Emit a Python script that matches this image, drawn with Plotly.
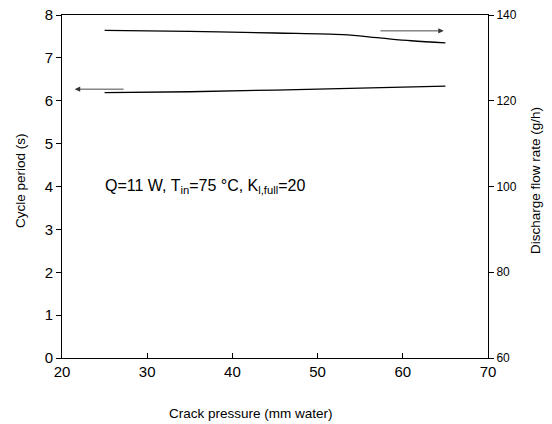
import plotly.graph_objects as go

# Data
crack_pressure = [25, 35, 45, 53, 57, 61, 65]
cycle_period = [6.19, 6.21, 6.25, 6.28, 6.30, 6.32, 6.34]
flow_x = [25, 35, 45, 53, 57, 61, 65]
flow_rate = [136.4, 136.2, 135.8, 135.4, 134.7, 134.0, 133.5]

x_ticks = [20, 30, 40, 50, 60, 70]
y_ticks = [0, 1, 2, 3, 4, 5, 6, 7, 8]
y2_ticks = [60, 80, 100, 120, 140]

font = "Liberation Sans, Arial, sans-serif"

fig = go.Figure()
fig.add_trace(go.Scatter(x=crack_pressure, y=cycle_period, mode="lines",
                         line=dict(color="black", width=1.3), showlegend=False))
fig.add_trace(go.Scatter(x=flow_x, y=flow_rate, mode="lines", yaxis="y2",
                         line=dict(color="black", width=1.3, shape="spline"), showlegend=False))

annotations = [
    dict(x=21.5, y=6.27, ax=27.4, ay=6.27, xref="x", yref="y", axref="x", ayref="y",
         showarrow=True, arrowhead=2, arrowsize=1.2, arrowwidth=0.9, arrowcolor="#333", text=""),
    dict(x=64.8, y=136.3, ax=57.2, ay=136.3, xref="x", yref="y2", axref="x", ayref="y2",
         showarrow=True, arrowhead=2, arrowsize=1.2, arrowwidth=0.9, arrowcolor="#333", text=""),
    dict(x=24.8, y=4.0, xref="x", yref="y", xanchor="left", yanchor="middle", showarrow=False,
         text="Q=11 W, T<sub>in</sub>=75 °C, K<sub>l,full</sub>=20",
         font=dict(size=16, color="black", family=font)),
    dict(x=(251 - 62) / 426, y=-55 / 343, xref="paper", yref="paper", showarrow=False,
         text="Crack pressure (mm water)", xanchor="center", yanchor="middle",
         font=dict(size=13.5, color="black", family=font)),
    dict(x=-42 / 426, y=(358 - 181) / 343, xref="paper", yref="paper", showarrow=False,
         text="Cycle period (s)", textangle=-90, xanchor="center", yanchor="middle",
         font=dict(size=13.5, color="black", family=font)),
    dict(x=(535 - 62) / 426, y=(358 - 181) / 343, xref="paper", yref="paper", showarrow=False,
         text="Discharge flow rate (g/h)", textangle=-90, xanchor="center", yanchor="middle",
         font=dict(size=13.5, color="black", family=font)),
]

fig.update_layout(
    template="none",
    width=552, height=424,
    margin=dict(l=62, r=64, t=15, b=66, autoexpand=False),
    paper_bgcolor="white", plot_bgcolor="white",
    font=dict(family=font, color="black"),
    xaxis=dict(range=[20, 70], tickvals=x_ticks, ticks="inside", ticklen=5, tickcolor="black",
               showline=True, linecolor="black", linewidth=1, mirror=True, showgrid=False,
               zeroline=False, tickfont=dict(size=15, color="black"), automargin=False),
    yaxis=dict(range=[0, 8], tickvals=y_ticks, ticks="outside", ticklen=5, tickcolor="black",
               showline=True, linecolor="black", linewidth=1, showgrid=False, zeroline=False,
               tickfont=dict(size=15, color="black"), automargin=False),
    yaxis2=dict(range=[60, 140], tickvals=y2_ticks, overlaying="y", side="right",
                ticks="outside", ticklen=5, tickcolor="black", showline=True, linecolor="black",
                linewidth=1, showgrid=False, zeroline=False,
                tickfont=dict(size=12, color="black"), automargin=False),
    annotations=annotations,
)

fig.write_html("out.html", config={"displayModeBar": False},
               post_script="document.body.style.margin='0';")
